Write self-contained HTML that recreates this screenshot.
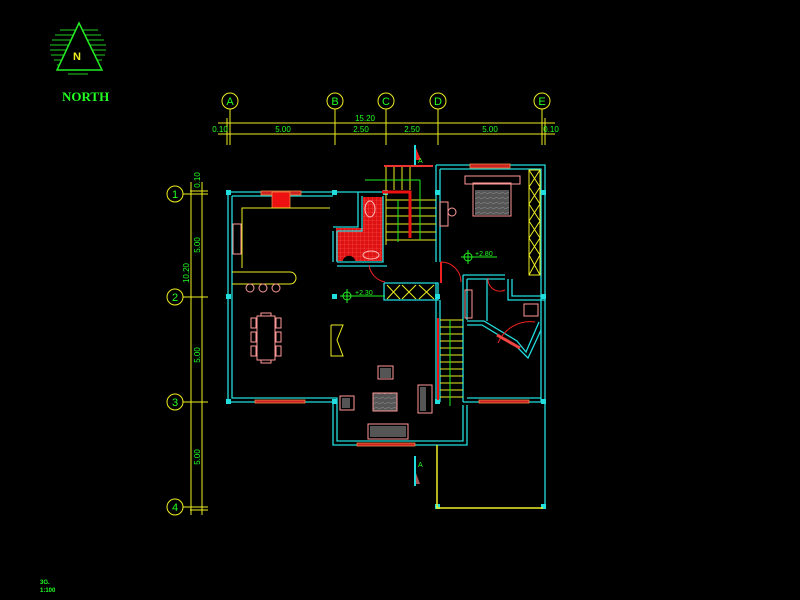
<!DOCTYPE html>
<html><head><meta charset="utf-8"><style>html,body{margin:0;padding:0;background:#000;width:800px;height:600px;overflow:hidden}svg{display:block}text{font-family:"Liberation Sans",sans-serif;fill:#2f2}</style></head><body>
<svg width="800" height="600" viewBox="0 0 800 600" xmlns="http://www.w3.org/2000/svg">
<defs>
<pattern id="tile" width="4" height="4" patternUnits="userSpaceOnUse"><rect width="4" height="4" fill="#d11"/><path d="M0,0H4M0,0V4" stroke="#f55" stroke-width="0.6"/></pattern>
<pattern id="bed" width="6" height="5" patternUnits="userSpaceOnUse"><rect width="6" height="5" fill="#555"/><path d="M0,4L6,2" stroke="#888" stroke-width="0.6"/></pattern>
</defs>
<rect width="800" height="600" fill="#000"/>
<!-- North symbol -->
<g stroke="#2c2" stroke-width="1">
<line x1="60" y1="30" x2="98" y2="30"/><line x1="55" y1="35" x2="101" y2="35"/><line x1="52" y1="40" x2="104" y2="40"/><line x1="50" y1="45" x2="106" y2="45"/><line x1="50" y1="50" x2="106" y2="50"/><line x1="51" y1="55" x2="105" y2="55"/><line x1="54" y1="60" x2="102" y2="60"/><line x1="57" y1="65" x2="99" y2="65"/><line x1="62" y1="70" x2="94" y2="70"/><line x1="68" y1="74" x2="88" y2="74"/>
</g>
<polygon points="79,23 57,70 102,70" fill="#000" stroke="#2e2" stroke-width="1.5"/>
<text x="73" y="60" font-size="11" font-weight="bold" style="fill:#ee2">N</text>
<text x="62" y="101" font-size="13" font-weight="bold" style="font-family:'Liberation Serif',serif">NORTH</text>
<!-- grid dims -->
<g stroke="#ee2" stroke-width="1" fill="none">
<line x1="218" y1="123" x2="555" y2="123"/><line x1="218" y1="134" x2="555" y2="134"/>
<line x1="230" y1="109" x2="230" y2="145"/><line x1="335" y1="109" x2="335" y2="145"/><line x1="386" y1="109" x2="386" y2="145"/><line x1="438" y1="109" x2="438" y2="145"/><line x1="542" y1="109" x2="542" y2="145"/><line x1="545" y1="118" x2="545" y2="145"/><line x1="227" y1="118" x2="227" y2="145"/>
<circle cx="230" cy="101" r="8"/><circle cx="335" cy="101" r="8"/><circle cx="386" cy="101" r="8"/><circle cx="438" cy="101" r="8"/><circle cx="542" cy="101" r="8"/>
<line x1="191" y1="182" x2="191" y2="515"/><line x1="202" y1="182" x2="202" y2="515"/>
<line x1="183" y1="194" x2="208" y2="194"/><line x1="183" y1="297" x2="208" y2="297"/><line x1="183" y1="402" x2="208" y2="402"/><line x1="183" y1="507" x2="208" y2="507"/><line x1="190" y1="191" x2="208" y2="191"/><line x1="190" y1="510" x2="208" y2="510"/>
<circle cx="175" cy="194" r="8"/><circle cx="175" cy="297" r="8"/><circle cx="175" cy="402" r="8"/><circle cx="175" cy="507" r="8"/>
</g>
<g font-size="11" text-anchor="middle" style="font-family:'Liberation Serif',serif">
<text x="230" y="105">A</text><text x="335" y="105">B</text><text x="386" y="105">C</text><text x="438" y="105">D</text><text x="542" y="105">E</text>
<text x="175" y="198">1</text><text x="175" y="301">2</text><text x="175" y="406">3</text><text x="175" y="511">4</text>
</g>
<g font-size="8" text-anchor="middle">
<text x="365" y="121">15.20</text><text x="220" y="132">0.10</text><text x="283" y="132">5.00</text><text x="361" y="132">2.50</text><text x="412" y="132">2.50</text><text x="490" y="132">5.00</text><text x="551" y="132">0.10</text>
<text transform="translate(200,180) rotate(-90)">0.10</text>
<text transform="translate(200,245) rotate(-90)">5.00</text>
<text transform="translate(189,273) rotate(-90)">10.20</text>
<text transform="translate(200,355) rotate(-90)">5.00</text>
<text transform="translate(200,457) rotate(-90)">5.00</text>
</g>
<!-- bath -->
<rect x="336" y="228" width="47" height="33" fill="url(#tile)"/>
<rect x="363" y="197" width="20" height="64" fill="url(#tile)"/>
<path d="M342,262 A8,12 0 0 1 356,262 Z" fill="#000"/>
<ellipse cx="370" cy="209" rx="5" ry="8" fill="none" stroke="#fbb"/>
<ellipse cx="371" cy="255" rx="8" ry="4" fill="none" stroke="#fbb"/>
<!-- walls -->
<g stroke="#2dd" stroke-width="1.3" fill="none">
<polyline points="228,192 385,192"/><polyline points="232,196 333,196"/>
<polyline points="228,192 228,402 333,402 333,445 467,445 467,405"/>
<polyline points="232,196 232,398 337,398 337,441 463,441 463,405"/>
<polyline points="333,227 358,227 358,192"/><polyline points="337,231 362,231 362,196"/>
<polyline points="333,231 333,262"/><polyline points="337,231 337,262"/>
<polyline points="337,262 383,262 383,196"/><polyline points="337,266 387,266"/>
<polyline points="436,165 545,165 545,508"/><polyline points="440,169 541,169 541,402"/>
<polyline points="436,165 436,262"/><polyline points="440,169 440,262"/>
<polyline points="436,283 436,402"/><polyline points="440,300 440,402"/>
<polyline points="384,283 438,283 438,300 384,300 384,283"/>
<polyline points="463,402 545,402"/><polyline points="467,398 541,398"/>
<polyline points="463,275 463,402"/><polyline points="467,279 467,320"/>
<polyline points="463,275 505,275"/><polyline points="467,279 505,279"/>
<polyline points="508,279 508,300 545,300"/><polyline points="512,279 512,296 541,296"/>
<polyline points="467,325 482,325 515,345 528,358 541,330"/><polyline points="467,321 484,321 517,341 526,352 539,322"/>
<polyline points="487,279 487,321"/>
</g>
<g fill="#2dd"><rect x="226" y="190" width="5" height="5"/><rect x="332" y="190" width="5" height="5"/><rect x="383" y="190" width="5" height="5"/><rect x="435" y="190" width="5" height="5"/><rect x="541" y="190" width="5" height="5"/><rect x="226" y="294" width="5" height="5"/><rect x="332" y="294" width="5" height="5"/><rect x="435" y="294" width="5" height="5"/><rect x="541" y="294" width="5" height="5"/><rect x="226" y="399" width="5" height="5"/><rect x="332" y="399" width="5" height="5"/><rect x="435" y="399" width="5" height="5"/><rect x="541" y="399" width="5" height="5"/><rect x="435" y="504" width="5" height="5"/><rect x="541" y="504" width="5" height="5"/></g>
<!-- windows -->
<g fill="#c22" stroke="#e84" stroke-width="0.8">
<rect x="261" y="191" width="40" height="4"/><rect x="470" y="164" width="40" height="4"/><rect x="255" y="400" width="50" height="3"/><rect x="357" y="443" width="58" height="3"/><rect x="479" y="400" width="50" height="3"/>
<rect x="272" y="192" width="18" height="16" fill="#e11"/>
</g>
<g stroke="#ee2" stroke-width="1.5" fill="none"><polyline points="437,445 437,508 543,508"/></g>
<g stroke="#ee2" stroke-width="1" fill="none">
<polyline points="242,268 242,208 330,208"/>
<path d="M232,272 H290 A6,6 0 0 1 290,284 H232"/>
</g>
<g stroke="#f99" fill="none" stroke-width="1">
<rect x="233" y="224" width="8" height="30"/>
<circle cx="250" cy="288" r="4"/><circle cx="263" cy="288" r="4"/><circle cx="276" cy="288" r="4"/>
<rect x="257" y="316" width="18" height="44"/><rect x="261" y="313" width="10" height="3"/><rect x="261" y="360" width="10" height="3"/>
<rect x="251" y="318" width="5" height="10"/><rect x="251" y="332" width="5" height="10"/><rect x="251" y="346" width="5" height="10"/>
<rect x="276" y="318" width="5" height="10"/><rect x="276" y="332" width="5" height="10"/><rect x="276" y="346" width="5" height="10"/>
<rect x="378" y="366" width="15" height="13"/><rect x="340" y="396" width="14" height="14"/><rect x="418" y="385" width="14" height="28"/><rect x="368" y="424" width="40" height="15"/>
<rect x="440" y="202" width="8" height="24"/><circle cx="452" cy="212" r="4"/>
<rect x="465" y="176" width="55" height="8"/><rect x="473" y="183" width="38" height="33"/>
<rect x="524" y="304" width="14" height="12"/>
<rect x="465" y="290" width="7" height="28"/>
</g>
<rect x="475" y="190" width="34" height="25" fill="url(#bed)"/>
<rect x="373" y="393" width="24" height="18" fill="url(#bed)" stroke="#f99"/>
<g fill="#555"><rect x="380" y="368" width="11" height="10"/><rect x="342" y="398" width="8" height="10"/><rect x="420" y="387" width="6" height="24"/><rect x="370" y="426" width="36" height="11"/></g>
<polyline points="331,325 343,325 337,340 343,356 331,356 331,325" stroke="#ee2" fill="none"/>
<!-- stairs -->
<g stroke="#ee2" stroke-width="1">
<line x1="386" y1="167" x2="386" y2="245"/><line x1="394" y1="167" x2="394" y2="190"/><line x1="402" y1="167" x2="402" y2="190"/><line x1="410" y1="167" x2="410" y2="190"/>
<line x1="386" y1="200" x2="436" y2="200"/><line x1="386" y1="208" x2="436" y2="208"/><line x1="386" y1="216" x2="436" y2="216"/><line x1="386" y1="224" x2="436" y2="224"/><line x1="386" y1="232" x2="436" y2="232"/><line x1="386" y1="240" x2="436" y2="240"/>
</g>
<line x1="384" y1="166" x2="433" y2="166" stroke="#e33" stroke-width="2"/>
<polyline points="382,192 410,192 410,238" stroke="#e11" stroke-width="3" fill="none"/>
<g stroke="#ee2" stroke-width="1">
<line x1="440" y1="320" x2="463" y2="320"/><line x1="440" y1="327" x2="463" y2="327"/><line x1="440" y1="334" x2="463" y2="334"/><line x1="440" y1="341" x2="463" y2="341"/><line x1="440" y1="348" x2="463" y2="348"/><line x1="440" y1="355" x2="463" y2="355"/><line x1="440" y1="362" x2="463" y2="362"/><line x1="440" y1="369" x2="463" y2="369"/><line x1="440" y1="376" x2="463" y2="376"/><line x1="440" y1="383" x2="463" y2="383"/><line x1="440" y1="390" x2="463" y2="390"/><line x1="440" y1="397" x2="463" y2="397"/>
</g>
<line x1="438" y1="318" x2="438" y2="400" stroke="#e11" stroke-width="2"/>
<line x1="450" y1="320" x2="450" y2="406" stroke="#2e2"/>
<g stroke="#2e2"><line x1="365" y1="180" x2="420" y2="180"/><line x1="420" y1="180" x2="420" y2="240"/><line x1="398" y1="200" x2="398" y2="242"/></g>
<g stroke="#ee2" fill="none"><rect x="529" y="170" width="11" height="105"/>
<path d="M529,170 L540,187 M540,170 L529,187 M529,187 L540,204 M540,187 L529,204 M529,204 L540,221 M540,204 L529,221 M529,221 L540,238 M540,221 L529,238 M529,238 L540,255 M540,238 L529,255 M529,255 L540,275 M540,255 L529,275"/>
<path d="M387,285 L400,299 M400,285 L387,299 M402,285 L416,299 M416,285 L402,299 M419,285 L434,299 M434,285 L419,299"/>
</g>
<g stroke="#e22" fill="none" stroke-width="1"><path d="M441,262 A20,20 0 0 1 461,282"/><path d="M488,278 A12,12 0 0 0 505,290"/><path d="M498,343 A35,35 0 0 1 535,322"/><path d="M369,265 A20,20 0 0 0 385,282"/></g>
<line x1="441" y1="262" x2="441" y2="283" stroke="#e22" stroke-width="2"/>
<line x1="497" y1="335" x2="520" y2="348" stroke="#e44" stroke-width="3"/>
<g stroke="#2e2" fill="none"><circle cx="347" cy="296" r="4"/><line x1="340" y1="296" x2="385" y2="296"/><line x1="347" y1="289" x2="347" y2="303"/>
<circle cx="468" cy="257" r="4"/><line x1="461" y1="257" x2="497" y2="257"/><line x1="468" y1="250" x2="468" y2="264"/></g>
<text x="355" y="295" font-size="7">+2.30</text><text x="475" y="256" font-size="7">+2.80</text>
<line x1="415" y1="145" x2="415" y2="165" stroke="#2dd" stroke-width="2"/><path d="M416,148 L421,160 L416,160Z" fill="#e22"/><text x="418" y="163" font-size="7">A</text>
<line x1="415" y1="456" x2="415" y2="486" stroke="#2dd" stroke-width="2"/><path d="M416,473 L420,484 L416,484Z" fill="#a55"/><text x="418" y="467" font-size="7">A</text>
<text x="40" y="584" font-size="6" font-weight="bold">3G.</text><text x="40" y="592" font-size="6" font-weight="bold">1:100</text>
</svg>
</body></html>
